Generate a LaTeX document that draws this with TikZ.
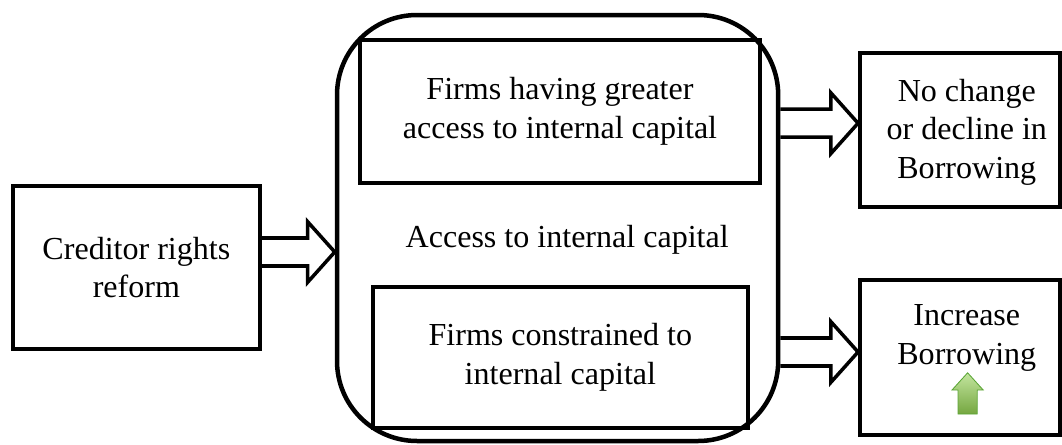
\documentclass[tikz,border=0pt]{standalone}
\usepackage{fontspec}
\setmainfont{Liberation Serif}
\usetikzlibrary{calc,backgrounds}
\definecolor{upgreen}{HTML}{92D050}
\definecolor{upgreenedge}{HTML}{5AA535}
\tikzset{
  txtnode/.style={align=center,inner sep=0pt,font=\fontsize{22.8}{27.5}\selectfont},
  boxnode/.style={txtnode,rectangle,draw=black,line width=2.8pt},
  grpnode/.style={rectangle,draw=black,rounded corners=2cm,line width=3.2pt},
  fatarrow/.style={draw=black,fill=white,line width=2.5pt,line join=miter},
  uparrow/.style={draw=upgreenedge,line width=0.6pt,top color=upgreen!55!white,bottom color=upgreen!80!black},
}
% hollow block arrow: shaft from the x of #1, tip at #2
\newcommand{\fatarr}[2]{%
  \draw[fatarrow] let \p1=(#1), \p2=(#2) in
    (\x1,\y2+0.35cm) -- (\x2-0.68cm,\y2+0.35cm) -- (\x2-0.68cm,\y2+0.76cm) -- (\x2,\y2)
    -- (\x2-0.68cm,\y2-0.76cm) -- (\x2-0.68cm,\y2-0.35cm) -- (\x1,\y2-0.35cm);}

\begin{document}
\begin{tikzpicture}
  \useasboundingbox (0,0) rectangle (26.55,11.1);
  \node[boxnode,minimum width=6.18cm,minimum height=4.08cm] (reform) at (3.41,4.41) {Creditor rights\\reform};
  \node[grpnode,minimum width=11.03cm,minimum height=10.65cm] (access) at (13.94,5.4) {};
  \node[boxnode,minimum width=10.0cm,minimum height=3.58cm] (greater) at (14.0,8.31) {Firms having greater\\access to internal capital};
  \node[txtnode] (acclbl) at (14.18,5.1) {Access to internal capital};
  \node[boxnode,minimum width=9.38cm,minimum height=3.53cm] (constr) at (14.01,2.16) {Firms constrained to\\internal capital};
  \node[boxnode,minimum width=5.0cm,minimum height=3.85cm] (nochange) at (24.0,7.85) {};
  \node[txtnode] (nochlbl) at (24.17,7.8) {No change\\or decline in\\Borrowing};
  \node[boxnode,minimum width=5.0cm,minimum height=3.88cm] (increase) at (24.0,2.16) {};
  \node[txtnode] (incrlbl) at (24.17,2.65) {Increase\\Borrowing};
  % arrow tips
  \coordinate (tipA) at (access.west |- 0,4.8);
  \coordinate (tipB) at (nochange.west |- 0,8.02);
  \coordinate (tipC) at (increase.west |- 0,2.3);
  \begin{scope}[on background layer]
    \fatarr{reform.east}{tipA}
    \fatarr{access.east}{tipB}
    \fatarr{access.east}{tipC}
  \end{scope}
  % green up arrow under the label
  \path[uparrow] (23.95,0.75) -- (23.95,1.35) -- (23.8,1.35) -- (24.19,1.78)
    -- (24.58,1.35) -- (24.43,1.35) -- (24.43,0.75) -- cycle;
\end{tikzpicture}
\end{document}
